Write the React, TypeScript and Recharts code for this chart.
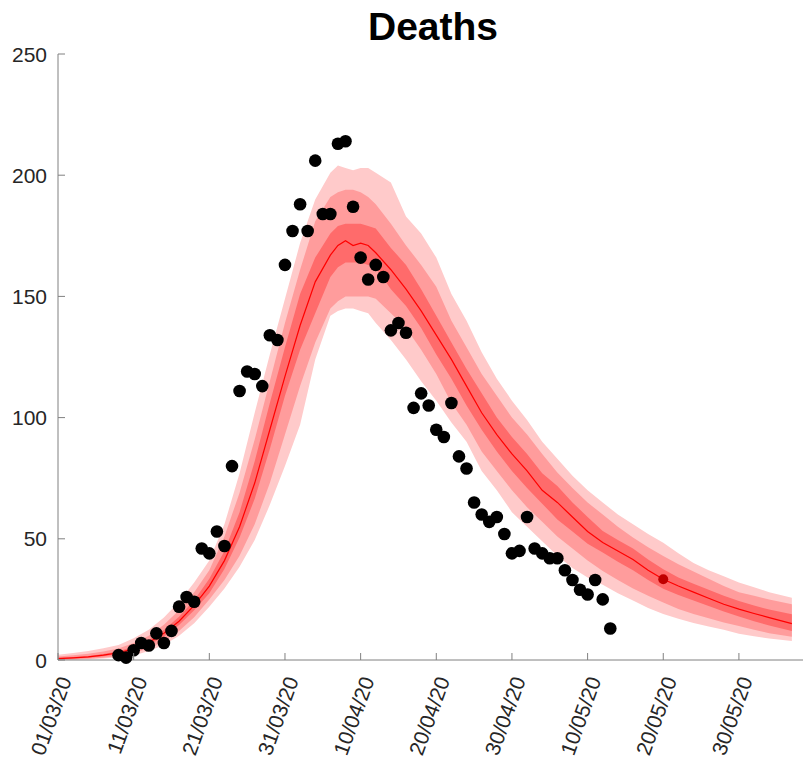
import { ComposedChart, Area, Line, Scatter, XAxis, YAxis } from "recharts";

// model output, sampled every couple of days (day 0 = 01/03/20)
const bandDays = [
    0, 2, 4, 6, 8, 10, 12, 14, 16, 18, 20, 22, 24, 26, 28, 30, 32, 34, 36, 37,
    38, 39, 40, 41, 42, 44, 46, 48, 50, 52, 54, 56, 58, 60, 62, 64, 66, 68, 70,
    72, 74, 76, 78, 80, 82, 84, 86, 88, 90, 92, 94, 97,
];
const median = [
    0.6, 0.9, 1.3, 2.0, 3.0, 4.6, 7.2, 11, 16, 22.5, 30.5, 41, 55, 73, 95, 117,
    138, 156, 167, 171, 173, 171, 172, 171, 168, 161, 153, 144, 134, 124, 113,
    102, 93, 85, 78, 70, 65, 59, 53, 48.5, 45, 41.5, 37, 33.3, 30.5, 28, 25.5,
    23, 21, 19.2, 17.5, 15,
];
const innerHigh = [
    0.9, 1.2, 1.7, 2.5, 3.6, 5.5, 8.3, 12.4, 17.8, 24.6, 33.5, 45, 61, 82, 106,
    129, 151, 166, 176, 179, 180, 180, 180, 179, 178, 170, 163, 153, 142, 131,
    120, 110, 100, 92, 85, 77, 71.8, 65, 59, 53.2, 49.5, 46, 41.5, 37.4, 34,
    31.5, 29, 26.5, 24.3, 22.5, 20.8, 18.9,
];
const innerLow = [
    0.35, 0.6, 0.95, 1.5, 2.4, 3.8, 6.2, 9.6, 14.4, 20.5, 27.5, 37.5, 50.5,
    66.5, 87, 109, 128, 143, 158, 162, 164, 164, 164, 163, 162, 153, 146, 137,
    126, 116, 105, 95, 86, 78, 71, 64.5, 58, 53, 48, 44.3, 40.5, 37, 33, 29.4,
    26.8, 24.5, 22.3, 20, 17.9, 16, 14.2, 12,
];
const midHigh = [
    1.4, 2.0, 2.6, 3.5, 4.7, 7.0, 10, 14.5, 20.5, 28, 37, 51, 69, 91, 115, 139,
    161, 181, 191, 193, 194, 194, 193, 191, 188, 180, 171, 163, 154, 140, 129,
    118, 109, 100, 93, 85, 77.4, 71, 65, 60, 55, 50.5, 46.5, 42.9, 39.5, 36.5,
    33.5, 30.5, 28, 26.5, 25, 23,
];
const midLow = [
    0.15, 0.3, 0.55, 0.95, 1.7, 2.8, 4.8, 7.7, 12, 17.6, 25, 33, 43, 56, 73, 93,
    113, 131, 145, 148, 150, 150, 150, 150, 149, 143, 137, 128, 118, 106, 97, 86,
    78, 70, 63, 57, 51, 46, 41, 36.7, 33, 29.5, 26.5, 23.7, 21, 19, 17.2, 15.5,
    14, 12.5, 11, 9.6,
];
const outerHigh = [
    2.2, 2.9, 3.7, 4.8, 6.2, 9.0, 12.5, 17.5, 24, 32, 41, 56, 77, 102, 126, 149,
    172, 190, 201, 204, 203, 202, 203, 203, 201, 197, 183, 176, 166, 151, 140,
    127, 116, 107, 99, 90, 83, 76, 70, 65, 60, 56, 52, 48.4, 44, 40, 37, 34.5,
    32, 30, 28, 25.7,
];
const outerLow = [
    0, 0.15, 0.3, 0.6, 1.1, 1.9, 3.7, 6.2, 10, 15.2, 22, 29.5, 38.5, 49.5, 64,
    80, 97, 124, 142, 144, 145, 145, 144, 143, 139, 132, 124, 115, 107, 98, 90,
    78, 70, 61, 55, 49, 43, 38, 34, 31, 27.5, 24.5, 21.5, 19, 17, 15.3, 13.8,
    12.5, 10.8, 9.8, 8.9, 7.8,
];

// reported daily deaths
const obsDays = [
    8, 9, 10, 11, 12, 13, 14, 15, 16, 17, 18, 19, 20, 21, 22, 23, 24, 25, 26, 27,
    28, 29, 30, 31, 32, 33, 34, 35, 36, 37, 38, 39, 40, 41, 42, 43, 44, 45, 46,
    47, 48, 49, 50, 51, 52, 53, 54, 55, 56, 57, 58, 59, 60, 61, 62, 63, 64, 65,
    66, 67, 68, 69, 70, 71, 72, 73,
];
const obsDeaths = [
    2, 1, 4, 7, 6, 11, 7, 12, 22, 26, 24, 46, 44, 53, 47, 80, 111, 119, 118, 113,
    134, 132, 163, 177, 188, 177, 206, 184, 184, 213, 214, 187, 166, 157, 163,
    158, 136, 139, 135, 104, 110, 105, 95, 92, 106, 84, 79, 65, 60, 57, 59, 52,
    44, 45, 59, 46, 44, 42, 42, 37, 33, 29, 27, 33, 25, 13,
];

const markerDays = [80];
const markerValues = [33.3];

const tickDays = [0, 10, 20, 30, 40, 50, 60, 70, 80, 90];
const tickLabels = [
    "01/03/20",
    "11/03/20",
    "21/03/20",
    "31/03/20",
    "10/04/20",
    "20/04/20",
    "30/04/20",
    "10/05/20",
    "20/05/20",
    "30/05/20",
];
const yTicks = [0, 50, 100, 150, 200, 250];

const bandRows = bandDays.map((day, i) => ({
    day,
    median: median[i],
    inner: [innerLow[i], innerHigh[i]],
    mid: [midLow[i], midHigh[i]],
    outer: [outerLow[i], outerHigh[i]],
}));
const obsRows = obsDays.map((day, i) => ({ day, deaths: obsDeaths[i] }));
const markerRows = markerDays.map((day, i) => ({ day, value: markerValues[i] }));

const FONT = '"Liberation Sans", Arial, Helvetica, sans-serif';
const AXIS = "#808080";
const TEXT = "#262626";
const TICK = 7;

const BottomTick = (props: any) => {
    const { x, y, payload } = props;
    const label = tickLabels[tickDays.indexOf(payload.value)];
    const tx = x + 14;
    const ty = y + 20;
    return (
        <g>
            <line x1={x} y1={y} x2={x} y2={y - TICK} stroke={AXIS} />
            <text
                x={tx}
                y={ty}
                transform={`rotate(-70 ${tx} ${ty})`}
                textAnchor="end"
                fontSize={21}
                fontFamily={FONT}
                fill={TEXT}
            >
                {label}
            </text>
        </g>
    );
};

const TopTick = (props: any) => {
    const { x, y } = props;
    return <line x1={x} y1={y} x2={x} y2={y + TICK} stroke={AXIS} />;
};

const LeftTick = (props: any) => {
    const { x, y, payload } = props;
    return (
        <g>
            <line x1={x} y1={y} x2={x + TICK} y2={y} stroke={AXIS} />
            <text
                x={x - 11}
                y={y}
                dy="0.36em"
                textAnchor="end"
                fontSize={21}
                fontFamily={FONT}
                fill={TEXT}
            >
                {payload.value}
            </text>
        </g>
    );
};

const RightTick = (props: any) => {
    const { x, y } = props;
    return <line x1={x} y1={y} x2={x - TICK} y2={y} stroke={AXIS} />;
};

const Dot = (props: any) => (
    <circle cx={props.cx} cy={props.cy} r={6.3} fill="#000" />
);

const Marker = (props: any) => (
    <circle cx={props.cx} cy={props.cy} r={5} fill="#c00000" />
);

const App = () => {
    return (
        <div
            style={{
                position: "absolute",
                left: 0,
                top: 0,
                width: 803,
                height: 761,
                overflow: "hidden",
                background: "#fff",
            }}
        >
            <div
                style={{
                    position: "absolute",
                    left: 0,
                    top: 7,
                    width: 866,
                    textAlign: "center",
                    fontFamily: FONT,
                    fontWeight: "bold",
                    fontSize: 39,
                    lineHeight: "39px",
                    color: "#000",
                }}
            >
                Deaths
            </div>
            <ComposedChart
                width={812}
                height={761}
                data={bandRows}
                margin={{ top: 54, right: 5, bottom: 1, left: 0 }}
            >
                <XAxis
                    type="number"
                    dataKey="day"
                    domain={[0, 99]}
                    ticks={tickDays}
                    interval={0}
                    height={100}
                    tickSize={0}
                    tickMargin={0}
                    tickLine={false}
                    axisLine={{ stroke: AXIS }}
                    tick={BottomTick}
                />
                <XAxis
                    xAxisId="top"
                    orientation="top"
                    type="number"
                    dataKey="day"
                    domain={[0, 99]}
                    ticks={tickDays}
                    interval={0}
                    height={0}
                    tickSize={0}
                    tickMargin={0}
                    tickLine={false}
                    axisLine={{ stroke: AXIS }}
                    tick={TopTick}
                />
                <YAxis
                    type="number"
                    domain={[0, 250]}
                    ticks={yTicks}
                    interval={0}
                    width={58}
                    tickSize={0}
                    tickMargin={0}
                    tickLine={false}
                    axisLine={{ stroke: AXIS }}
                    tick={LeftTick}
                />
                <YAxis
                    yAxisId="right"
                    orientation="right"
                    type="number"
                    domain={[0, 250]}
                    ticks={yTicks}
                    interval={0}
                    width={0}
                    tickSize={0}
                    tickMargin={0}
                    tickLine={false}
                    axisLine={{ stroke: AXIS }}
                    tick={RightTick}
                />
                <Area
                    type="linear"
                    dataKey="outer"
                    stroke="none"
                    fill="#ffcaca"
                    fillOpacity={1}
                    dot={false}
                    activeDot={false}
                    isAnimationActive={false}
                />
                <Area
                    type="linear"
                    dataKey="mid"
                    stroke="none"
                    fill="#ff9c9c"
                    fillOpacity={1}
                    dot={false}
                    activeDot={false}
                    isAnimationActive={false}
                />
                <Area
                    type="linear"
                    dataKey="inner"
                    stroke="none"
                    fill="#ff6b6b"
                    fillOpacity={1}
                    dot={false}
                    activeDot={false}
                    isAnimationActive={false}
                />
                <Line
                    type="linear"
                    dataKey="median"
                    stroke="#ff0000"
                    strokeWidth={1.2}
                    dot={false}
                    activeDot={false}
                    isAnimationActive={false}
                />
                <Scatter
                    data={obsRows}
                    dataKey="deaths"
                    shape={Dot}
                    isAnimationActive={false}
                />
                <Scatter
                    data={markerRows}
                    dataKey="value"
                    shape={Marker}
                    isAnimationActive={false}
                />
            </ComposedChart>
        </div>
    );
};

export default App;
